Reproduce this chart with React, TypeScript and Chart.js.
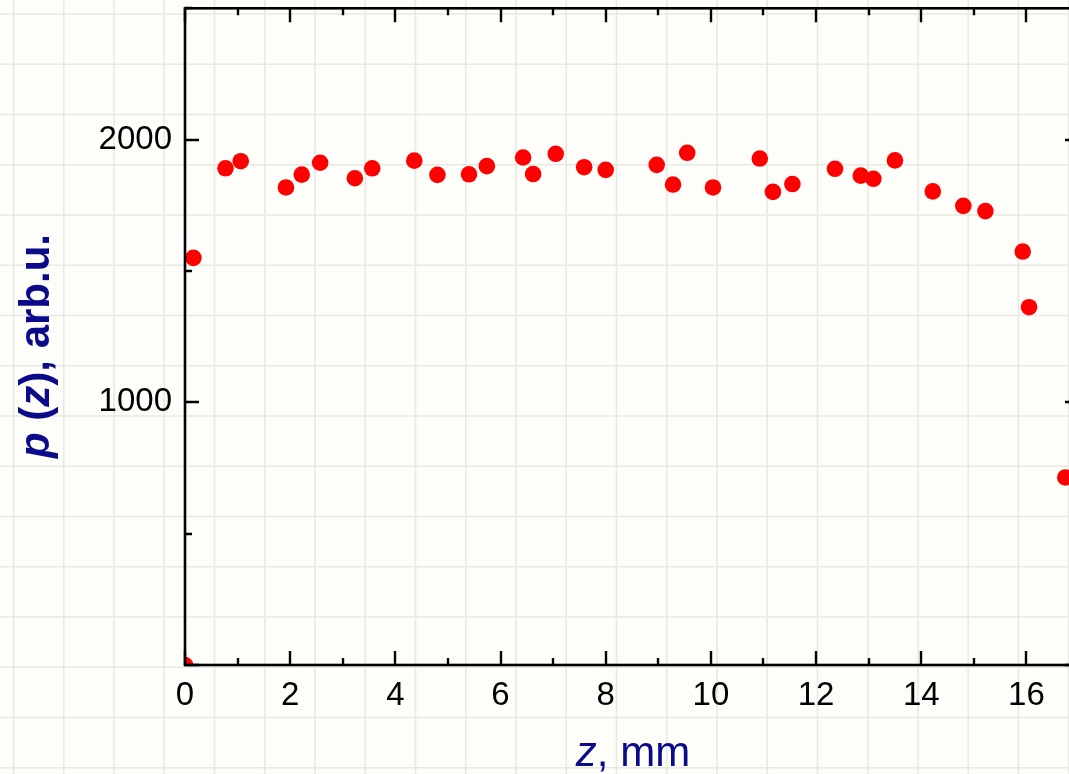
import React, { useEffect, useRef } from "react";
import { Chart, registerables } from "chart.js";

Chart.register(...registerables);

// Data
const zValues = [
  0, 0.16, 0.77, 1.06, 1.92, 2.22, 2.57, 3.23, 3.56, 4.36, 4.8, 5.4, 5.74,
  6.43, 6.62, 7.05, 7.59, 8.0, 8.97, 9.28, 9.55, 10.04, 10.93, 11.18, 11.55,
  12.36, 12.85, 13.09, 13.5, 14.22, 14.8, 15.22, 15.93, 16.05, 16.74,
];
const pValues = [
  0, 1550, 1891, 1918, 1818, 1867, 1912, 1853, 1891, 1920, 1866, 1868, 1899,
  1932, 1869, 1946, 1895, 1885, 1904, 1829, 1950, 1818, 1928, 1801, 1831,
  1889, 1863, 1851, 1921, 1803, 1748, 1728, 1574, 1362, 714,
];
const xLabeledTicks = [0, 2, 4, 6, 8, 10, 12, 14, 16];
const yLabeledTicks = [1000, 2000];
const xRange = [0, 17];
const yRange = [0, 2500];

const CANVAS_W = 1100;
const CANVAS_H = 774;
const NAVY = "#0a0a8a";
const FONT = "'Liberation Sans', Arial, sans-serif";

const paperPlugin = {
  id: "paper",
  beforeDraw(chart: any) {
    const ctx = chart.ctx;
    ctx.save();
    ctx.fillStyle = "#fdfdf9";
    ctx.fillRect(0, 0, chart.width, chart.height);
    ctx.strokeStyle = "#e9e9e4";
    ctx.lineWidth = 1.6;
    const step = 50.25;
    ctx.beginPath();
    for (let x = 13.5; x < chart.width; x += step) {
      ctx.moveTo(x, 0);
      ctx.lineTo(x, chart.height);
    }
    for (let y = 14; y < chart.height; y += step) {
      ctx.moveTo(0, y);
      ctx.lineTo(chart.width, y);
    }
    ctx.stroke();
    ctx.restore();
  },
};

const framePlugin = {
  id: "frame",
  afterDatasetsDraw(chart: any) {
    const ctx = chart.ctx;
    const { left, right, top, bottom } = chart.chartArea;
    const xs = chart.scales.x;
    const ys = chart.scales.y;
    ctx.save();
    ctx.strokeStyle = "#000";
    ctx.lineWidth = 2.6;
    ctx.strokeRect(left, top, right - left, bottom - top);
    ctx.lineWidth = 2.4;
    ctx.beginPath();
    for (let v = xRange[0]; v <= xRange[1]; v += 1) {
      const px = Math.round(xs.getPixelForValue(v));
      const len = v % 2 === 0 ? 14 : 7;
      ctx.moveTo(px, bottom);
      ctx.lineTo(px, bottom - len);
      ctx.moveTo(px, top);
      ctx.lineTo(px, top + len);
    }
    for (let v = yRange[0]; v <= yRange[1]; v += 500) {
      const py = Math.round(ys.getPixelForValue(v));
      const len = v % 1000 === 0 ? 14 : 7;
      ctx.moveTo(left, py);
      ctx.lineTo(left + len, py);
      ctx.moveTo(right, py);
      ctx.lineTo(right - len, py);
    }
    ctx.stroke();
    ctx.restore();
  },
  afterDraw(chart: any) {
    const ctx = chart.ctx;
    ctx.save();
    ctx.fillStyle = NAVY;
    ctx.textBaseline = "alphabetic";
    ctx.textAlign = "left";
    // Y title
    const ySegs = [
      { t: "p", f: `italic bold 42px ${FONT}` },
      { t: " (", f: `bold 42px ${FONT}` },
      { t: "z", f: `italic bold 42px ${FONT}` },
      { t: "), arb.u.", f: `bold 42px ${FONT}` },
    ];
    let total = 0;
    ySegs.forEach((s) => {
      ctx.font = s.f;
      total += ctx.measureText(s.t).width;
    });
    ctx.translate(49, 346);
    ctx.rotate(-Math.PI / 2);
    let cx = -total / 2;
    ySegs.forEach((s) => {
      ctx.font = s.f;
      ctx.fillText(s.t, cx, 0);
      cx += ctx.measureText(s.t).width;
    });
    ctx.setTransform(1, 0, 0, 1, 0, 0);
    // X title
    const xSegs = [
      { t: "z", f: `italic 42px ${FONT}` },
      { t: ", mm", f: `42px ${FONT}` },
    ];
    total = 0;
    xSegs.forEach((s) => {
      ctx.font = s.f;
      total += ctx.measureText(s.t).width;
    });
    cx = 633 - total / 2;
    xSegs.forEach((s) => {
      ctx.font = s.f;
      ctx.fillText(s.t, cx, 766);
      cx += ctx.measureText(s.t).width;
    });
    ctx.restore();
  },
};

export default function App() {
  const canvasRef = useRef<HTMLCanvasElement | null>(null);

  useEffect(() => {
    if (!canvasRef.current) return;
    const points = zValues.map((z, i) => ({ x: z, y: pValues[i] }));
    const chart = new Chart(canvasRef.current, {
      type: "scatter",
      data: {
        datasets: [
          {
            data: points,
            backgroundColor: "#ff0000",
            borderWidth: 0,
            pointRadius: 8.3,
            pointHoverRadius: 8.3,
            clip: 0,
          } as any,
        ],
      },
      options: {
        responsive: false,
        animation: false,
        devicePixelRatio: 1,
        layout: { padding: { top: 8, right: CANVAS_W - 1079, left: 0, bottom: 0 } },
        plugins: { legend: { display: false }, tooltip: { enabled: false } },
        scales: {
          x: {
            type: "linear",
            min: xRange[0],
            max: xRange[1],
            grid: { display: false, drawTicks: false },
            border: { display: false },
            afterFit: (scale: any) => {
              scale.height = CANVAS_H - 665;
              scale.paddingLeft = 0;
              scale.paddingRight = 0;
            },
            afterBuildTicks: (scale: any) => {
              scale.ticks = xLabeledTicks.map((v) => ({ value: v }));
            },
            ticks: {
              autoSkip: false,
              maxRotation: 0,
              padding: 11,
              color: "#000",
              font: { family: FONT, size: 33 },
              callback: (v: any) => String(v),
            },
          },
          y: {
            type: "linear",
            min: yRange[0],
            max: yRange[1],
            grid: { display: false, drawTicks: false },
            border: { display: false },
            afterFit: (scale: any) => {
              scale.width = 185;
              scale.paddingTop = 0;
              scale.paddingBottom = 0;
            },
            afterBuildTicks: (scale: any) => {
              scale.ticks = yLabeledTicks.map((v) => ({ value: v }));
            },
            ticks: {
              autoSkip: false,
              padding: 13,
              color: "#000",
              font: { family: FONT, size: 33 },
              callback: (v: any) => String(v),
            },
          },
        },
      },
      plugins: [paperPlugin, framePlugin],
    });
    return () => chart.destroy();
  }, []);

  return (
    <div
      style={{
        position: "fixed",
        left: 0,
        top: 0,
        width: "1069px",
        height: "774px",
        overflow: "hidden",
        background: "#fdfdf9",
      }}
    >
      <canvas
        ref={canvasRef}
        width={CANVAS_W}
        height={CANVAS_H}
        style={{ width: CANVAS_W + "px", height: CANVAS_H + "px", display: "block" }}
      />
    </div>
  );
}
